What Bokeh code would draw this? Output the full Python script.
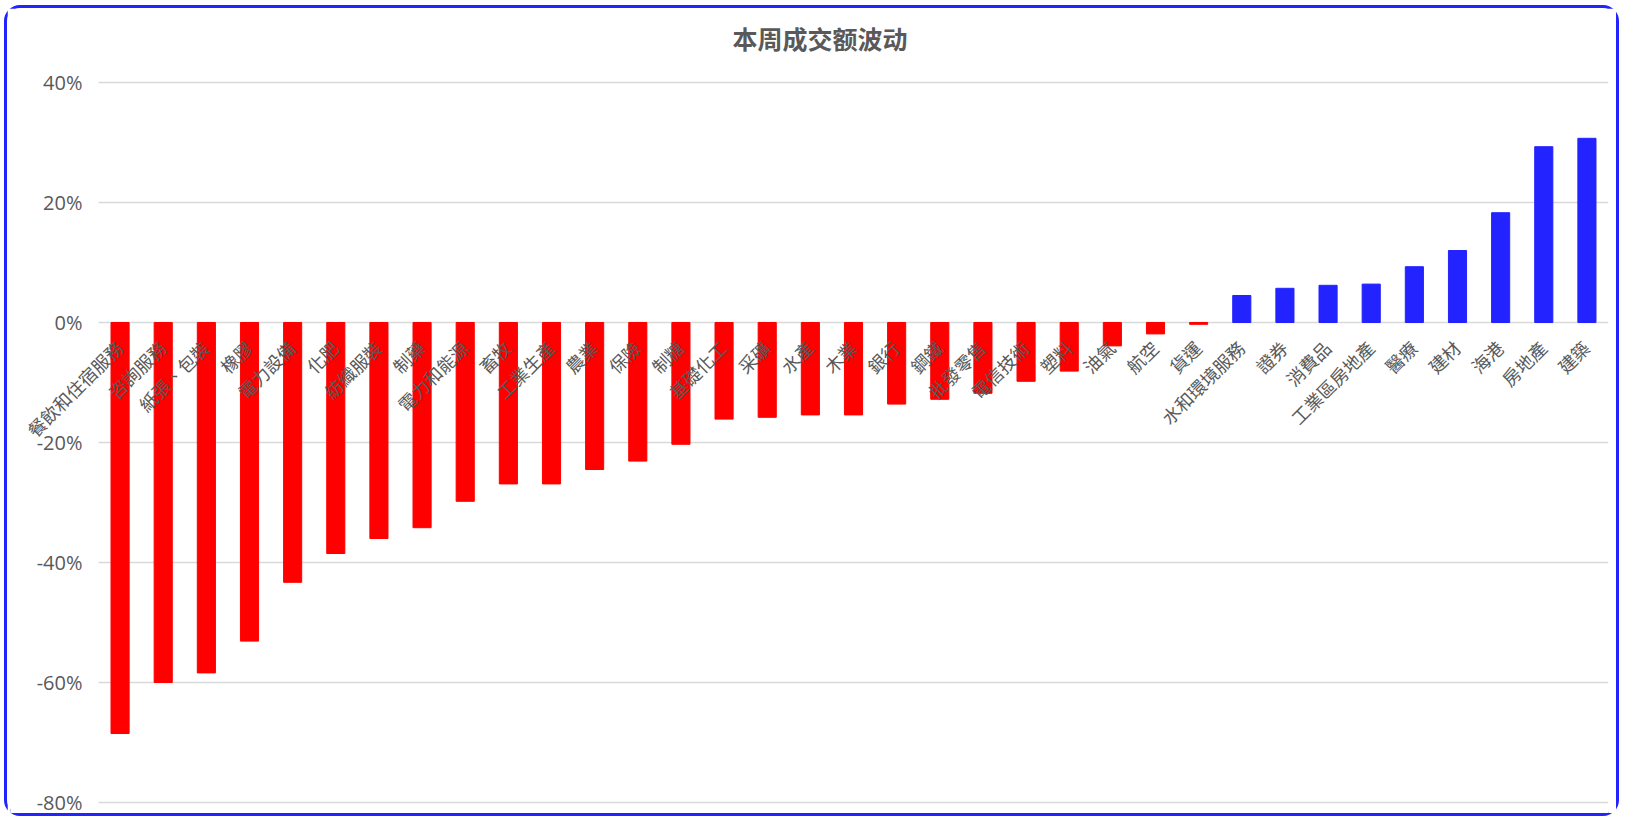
import math
from bokeh.plotting import figure
from bokeh.models import ColumnDataSource, Range1d
from bokeh.core.properties import value
from bokeh.embed import file_html
from bokeh.resources import INLINE

categories = ["餐飲和住宿服務", "咨詢服務", "紙張、包裝", "橡膠", "電力設備", "化肥", "紡織服裝",
              "制藥", "電力和能源", "畜牧", "工業生產", "農業", "保險", "制糖", "基礎化工", "采礦",
              "水產", "木業", "銀行", "鋼鐵", "批發零售", "電信技術", "塑料", "油氣", "航空", "貨運",
              "水和環境服務", "證券", "消費品", "工業區房地產", "醫療", "建材", "海港", "房地產", "建築"]
changes = [-68.5, -60.0, -58.4, -53.1, -43.3, -38.5, -36.0,
           -34.2, -29.8, -26.9, -26.9, -24.5, -23.1, -20.3, -16.1, -15.8,
           -15.4, -15.4, -13.6, -12.8, -11.8, -9.8, -8.1, -3.9, -1.9, -0.3,
           4.5, 5.7, 6.2, 6.4, 9.3, 12.0, 18.3, 29.3, 30.7]
tick_values = [40, 20, 0, -20, -40, -60, -80]
tick_labels = ["40%", "20%", "0%", "-20%", "-40%", "-60%", "-80%"]
title_text = "本周成交额波动"

n = len(categories)
idx = list(range(n))
colors = ["#ff0000" if v < 0 else "#2323ff" for v in changes]
src = ColumnDataSource(dict(x=idx, cat=categories, val=changes, color=colors, zero=[0] * n))
tick_src = ColumnDataSource(dict(y=tick_values, label=tick_labels,
                                 x0=[-0.5] * len(tick_values), x1=[n - 0.5] * len(tick_values)))

# frame: data -0.5 .. n-0.5 spans the gridline width; extra room left for the value labels
left_extra = 88 / 43.143
p = figure(x_range=Range1d(-0.5 - left_extra, n - 0.5),
           y_range=Range1d(-82.83, 43),
           width=1615, height=811, output_backend="svg", toolbar_location=None,
           min_border_left=3, min_border_right=14, min_border_top=55, min_border_bottom=0)

p.styles = {"border": "3px solid #2323ff", "border-radius": "16px",
            "margin-left": "4px", "margin-top": "5px"}

# gridlines
p.segment(x0="x0", x1="x1", y0="y", y1="y", line_color="#d9d9d9", line_width=1.3, source=tick_src)

# value labels
p.text(x="x0", y="y", text="label", x_offset=-16, text_align="right", text_baseline="middle",
       text_line_height=1.0,
       text_font=value("Open Sans"), text_font_size="20px", text_color="#595959", source=tick_src)

# bars
p.vbar(x="x", top="val", width=0.42, color="color", source=src)

# category labels
p.text(x="x", y="zero", text="cat", angle=math.pi / 4, text_align="right",
       text_baseline="middle", x_offset=-1, y_offset=21.5,
       text_font=value("Noto Sans CJK TC"), text_font_size="18px",
       text_color="#595959", source=src)

p.title.text = title_text
p.title.align = "left"
p.title.offset = 722
p.title.standoff = 18
p.title.text_font = "Noto Sans CJK SC"
p.title.text_font_size = "25px"
p.title.text_font_style = "bold"
p.title.text_color = "#595959"

p.axis.visible = False
p.grid.visible = False
p.outline_line_color = None
p.background_fill_color = "white"
p.border_fill_color = "white"

open("out.html", "w").write(file_html(p, INLINE))
